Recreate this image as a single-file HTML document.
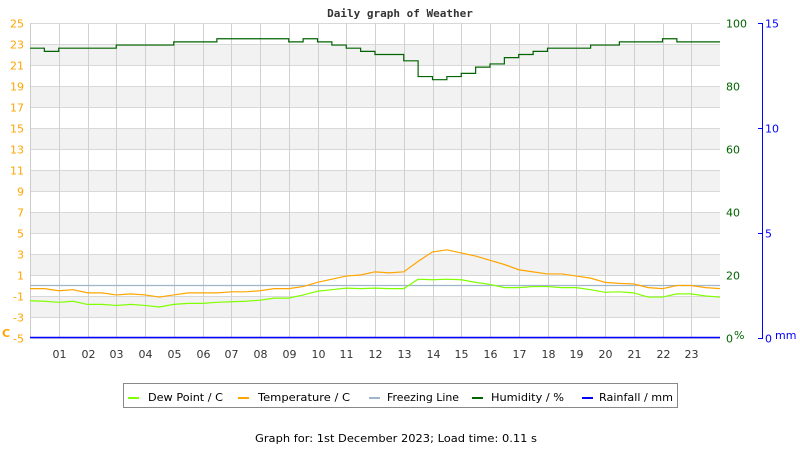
<!DOCTYPE html>
<html><head><meta charset="utf-8"><style>
body{margin:0;background:#fff;width:800px;height:450px;overflow:hidden}
svg{display:block;font-family:"DejaVu Sans","Liberation Sans",sans-serif}
</style></head><body>
<svg id="chart" width="800" height="450" viewBox="0 0 800 450">
<text x="400" y="17" text-anchor="middle" font-family="DejaVu Sans Mono,monospace" font-weight="bold" font-size="11" fill="#333">Daily graph of Weather</text>
<g id="bands"></g><g id="grid"></g><g id="series"></g><g id="axes"></g>
<g>
<rect x="123.5" y="383.5" width="554" height="24" fill="#fff" stroke="#888"/>
<rect x="128" y="397" width="11" height="2" fill="#80ff00"/>
<text x="148" y="401" font-size="11" fill="#000" textLength="75" lengthAdjust="spacingAndGlyphs">Dew Point / C</text>
<rect x="238" y="397" width="11" height="2" fill="#ffa500"/>
<text x="258" y="401" font-size="11" fill="#000" textLength="92" lengthAdjust="spacingAndGlyphs">Temperature / C</text>
<rect x="369" y="397" width="11" height="2" fill="#a0b4cc"/>
<text x="387" y="401" font-size="11" fill="#000" textLength="72" lengthAdjust="spacingAndGlyphs">Freezing Line</text>
<rect x="472" y="397" width="11" height="2" fill="#006400"/>
<text x="491" y="401" font-size="11" fill="#000" textLength="73" lengthAdjust="spacingAndGlyphs">Humidity / %</text>
<rect x="582" y="397" width="11" height="2" fill="#0000ff"/>
<text x="599" y="401" font-size="11" fill="#000" textLength="74" lengthAdjust="spacingAndGlyphs">Rainfall / mm</text>
</g>
<text x="396" y="442" text-anchor="middle" font-size="11" fill="#000" textLength="282" lengthAdjust="spacingAndGlyphs">Graph for: 1st December 2023; Load time: 0.11 s</text>
</svg>
<script>
const hours = ["01","02","03","04","05","06","07","08","09","10","11","12","13","14","15","16","17","18","19","20","21","22","23"];
const tempTicks = [-5,-3,-1,1,3,5,7,9,11,13,15,17,19,21,23,25];
const humTicks = [0,20,40,60,80,100];
const rainTicks = [0,5,10,15];
const humidity = [92,91,92,92,92,92,93,93,93,93,94,94,94,95,95,95,95,95,94,95,94,93,92,91,90,90,88,83,82,83,84,86,87,89,90,91,92,92,92,93,93,94,94,94,95,94,94,94,94];
const temperature = [-0.3,-0.3,-0.5,-0.4,-0.7,-0.7,-0.9,-0.8,-0.9,-1.1,-0.9,-0.7,-0.7,-0.7,-0.6,-0.6,-0.5,-0.3,-0.3,-0.1,0.3,0.6,0.9,1.0,1.3,1.2,1.3,2.3,3.2,3.4,3.1,2.8,2.4,2.0,1.5,1.3,1.1,1.1,0.9,0.7,0.3,0.2,0.15,-0.2,-0.3,0.0,0.0,-0.2,-0.3];
const dewPoint = [-1.45,-1.5,-1.6,-1.5,-1.8,-1.8,-1.9,-1.8,-1.9,-2.05,-1.8,-1.7,-1.7,-1.6,-1.55,-1.5,-1.4,-1.2,-1.2,-0.9,-0.55,-0.4,-0.25,-0.3,-0.25,-0.3,-0.3,0.6,0.55,0.6,0.55,0.3,0.1,-0.2,-0.2,-0.1,-0.1,-0.2,-0.2,-0.4,-0.65,-0.6,-0.7,-1.1,-1.1,-0.8,-0.8,-1.0,-1.1];
const rainfall = [0,0];
const freezing = 0;
const stepHours = 0.5;

const NS="http://www.w3.org/2000/svg";
const X0=30,X1=720,YT=23,YB=338;
const xS=h=>X0+h*(X1-X0)/24;
const yT=t=>YB-(t+5)*(YB-YT)/30;
const yH=p=>YB-p*(YB-YT)/100;
const yR=r=>YB-r*(YB-YT)/15;
function mk(tag,attrs,parent){const e=document.createElementNS(NS,tag);for(const k in attrs)e.setAttribute(k,attrs[k]);parent.appendChild(e);return e;}
const bands=document.getElementById('bands'),grid=document.getElementById('grid'),ser=document.getElementById('series'),axes=document.getElementById('axes');
for(let i=0;i<tempTicks.length-1;i++){
  if(i%2===1){const r=mk('rect',{x:X0,y:yT(tempTicks[i+1]),width:X1-X0,height:yT(tempTicks[i])-yT(tempTicks[i+1]),fill:'#f2f2f2'},bands);
  
  }
}
tempTicks.forEach(t=>{
  const l=mk('line',{x1:X0,x2:X1,y1:yT(t)+0.5,y2:yT(t)+0.5,stroke:'#d8d8d8'},grid);
  
  
  const tx=mk('text',{x:24,y:yT(t)+4.5,'text-anchor':'end','font-size':11,fill:'#ffa500'},axes);tx.textContent=t;
  
  
});
hours.forEach((h,i)=>{
  const x=Math.round(xS(i+1))+0.5;
  const l=mk('line',{x1:x,x2:x,y1:YT,y2:YB,stroke:'#d0d0d0'},grid);
  
  
  const tx=mk('text',{x:x,y:358,'text-anchor':'middle','font-size':11,fill:'#333'},axes);tx.textContent=h;
  
  
});
const la=mk('line',{x1:X0+0.5,x2:X0+0.5,y1:YT,y2:YB,stroke:'#ccc'},grid);


humTicks.forEach(p=>{
  const tx=mk('text',{x:726,y:yH(p)+4.5,'font-size':11,fill:'#006400'},axes);tx.textContent=p;
  
  
});
const pc=mk('text',{x:734,y:339,'font-size':11,fill:'#006400'},axes);pc.textContent='%';


const ra=mk('line',{x1:762.5,x2:762.5,y1:YT,y2:YB,stroke:'#0000ff'},axes);


rainTicks.forEach(r=>{
  const tk=mk('line',{x1:758,x2:763,y1:Math.round(yR(r))+0.5,y2:Math.round(yR(r))+0.5,stroke:'#0000ff'},axes);
  
  
  const tx=mk('text',{x:765,y:yR(r)+4.5,'font-size':11,fill:'#0000ff'},axes);tx.textContent=r;
  
  
});
const mm=mk('text',{x:775,y:339,'font-size':11,fill:'#0000ff'},axes);mm.textContent='mm';


const cu=mk('text',{x:2,y:337,'font-size':11,'font-weight':'bold',fill:'#ffa500'},axes);cu.textContent='C';


function stepPath(arr,yf){let d='';arr.forEach((v,i)=>{const x=xS(Math.min(i*stepHours,24)),y=yf(v);if(i===0)d+=`M${x},${y}`;else d+=`H${x}V${y}`;});d+=`H${X1}`;return d;}
function linePath(arr,yf){let d='';arr.forEach((v,i)=>{const x=xS(Math.min(i*stepHours,24)),y=yf(v);d+=(i===0?'M':'L')+x+','+y;});return d;}
const fz=mk('line',{x1:X0,x2:X1,y1:yT(freezing),y2:yT(freezing),stroke:'#a0b4cc','stroke-width':1.2},ser);


const dp=mk('path',{d:linePath(dewPoint,yT),fill:'none',stroke:'#80ff00','stroke-width':1.2},ser);


const tp=mk('path',{d:linePath(temperature,yT),fill:'none',stroke:'#ffa500','stroke-width':1.2},ser);


const hp=mk('path',{d:stepPath(humidity,yH),fill:'none',stroke:'#006400','stroke-width':1.2},ser);


const rp=mk('path',{d:`M${X0},${yR(rainfall[0])-0.5}H${X1}`,fill:'none',stroke:'#0000ff','stroke-width':1.5},ser);


</script>
</body></html>
